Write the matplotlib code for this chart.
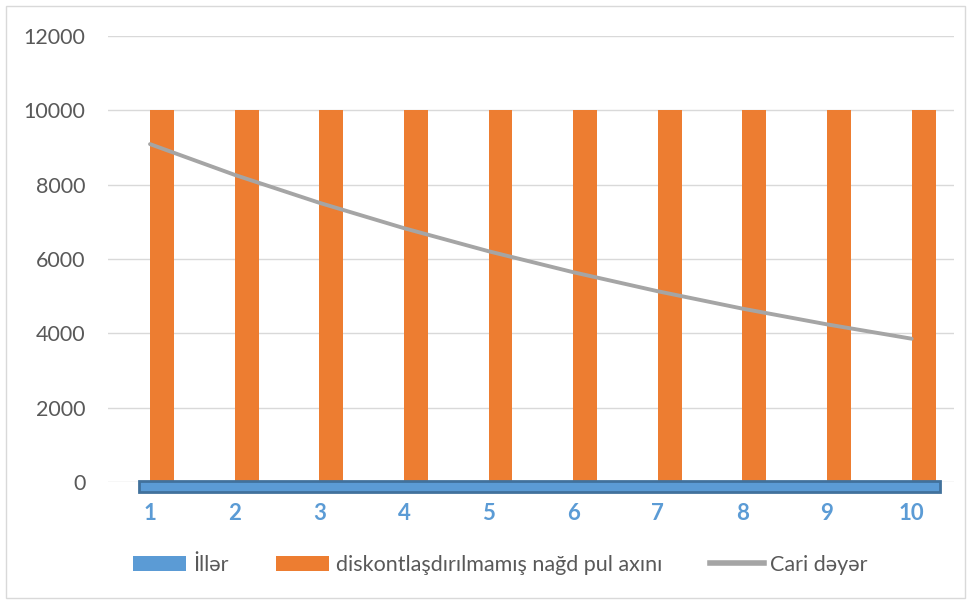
import matplotlib
matplotlib.use("Agg")
import matplotlib.pyplot as plt
from matplotlib.patches import Rectangle, Patch
from matplotlib.lines import Line2D

years = [1, 2, 3, 4, 5, 6, 7, 8, 9, 10]
cash_flow = [10000] * 10
present_value = [9091, 8264, 7513, 6830, 6209, 5645, 5132, 4665, 4241, 3855]
y_ticks = [0, 2000, 4000, 6000, 8000, 10000, 12000]
legend_labels = ["İllər", "diskontlaşdırılmamış nağd pul axını", "Cari dəyər"]

BLUE = "#5B9BD5"
ORANGE = "#ED7D31"
GRAY = "#A5A5A5"
TEXT = "#595959"

plt.rcParams['font.family'] = ['Lato', 'DejaVu Sans']

fig = plt.figure(figsize=(9.72, 6.04), dpi=100)
fig.patches.append(Rectangle((6/972, 6/604), 959/972, 592/604, transform=fig.transFigure,
                             fill=False, edgecolor="#D9D9D9", linewidth=1))
ax = fig.add_axes([107.7/972, 1-482/604, (954-107.7)/972, (482-36)/604])

bw = 0.283
ax.bar(years, cash_flow, width=bw, align='edge', color=ORANGE, zorder=2)
ax.plot(years, present_value, color=GRAY, linewidth=2.8, solid_capstyle='round', zorder=3)

# blue axis strip (İllər series)
ax.add_patch(Rectangle((0.87, -260), 10.34-0.87, 295, facecolor=BLUE, edgecolor="#41719C",
                       linewidth=2, clip_on=False, zorder=4))

ax.set_xlim(0.5, 10.5)
ax.set_ylim(0, 12000)
ax.set_yticks(y_ticks)
ax.set_yticklabels([str(v) for v in y_ticks])
ax.set_xticks(years)
ax.set_xticklabels([str(y) for y in years])
ax.grid(axis='y', color="#D9D9D9", linewidth=1, zorder=0)
ax.set_axisbelow(True)
for s in ax.spines.values():
    s.set_visible(False)
ax.tick_params(axis='y', length=0, pad=16, labelsize=15.5, labelcolor=TEXT)
ax.tick_params(axis='x', length=0, pad=15, labelsize=16, labelcolor=BLUE)
for t in ax.get_xticklabels():
    t.set_fontweight('bold')

handles = [Patch(facecolor=BLUE, edgecolor='none'),
           Patch(facecolor=ORANGE, edgecolor='none'),
           Line2D([0], [0], color=GRAY, linewidth=4)]
fig.legend(handles, legend_labels, loc='center', bbox_to_anchor=(500/972, 1-565/604), ncol=3,
           frameon=False, fontsize=15.5, labelcolor=TEXT, handlelength=2.5, handleheight=0.75,
           handletextpad=0.3, columnspacing=2.2)

fig.savefig("out.png", dpi=100)
